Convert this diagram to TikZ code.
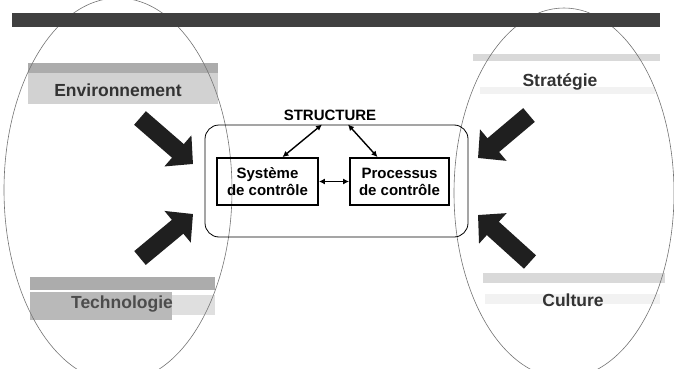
\documentclass[tikz,border=0pt]{standalone}
\usepackage{fontspec}
\setmainfont{Liberation Sans}
\usetikzlibrary{arrows.meta}
\begin{document}
\begin{tikzpicture}[x=1pt,y=-1pt,
  lbl/.style={font=\fontsize{17.5}{20}\selectfont\bfseries, text=black!80, inner sep=0pt},
  boxtxt/.style={draw, line width=1.8pt, align=center, font=\fontsize{15}{17}\selectfont\bfseries, inner sep=0pt},
  smallarr/.style={line width=1.4pt, {Latex[length=6pt,width=6pt]}-{Latex[length=6pt,width=6pt]}},
  bigarr/.style={line width=18pt, -{Triangle[width=40pt,length=20pt]}, black!88},
  ell/.style={draw=black!55, line width=0.6pt}]
\useasboundingbox (0,0) rectangle (674,369);
% bands
\fill[gray!35] (28,63) rectangle (218,104);
\fill[gray!65] (28,63) rectangle (218,73);
\fill[gray!65] (30,277) rectangle (215,290);
\fill[gray!55] (30,292) rectangle (172,320);
\fill[gray!25] (172,295) rectangle (215,315);
\fill[gray!30] (473,54) rectangle (660,61);
\fill[gray!10] (480,87) rectangle (655,94);
\fill[gray!30] (483,273) rectangle (665,283);
\fill[gray!10] (485,294) rectangle (660,304);
% ellipses
\begin{scope}
\clip (0,0) rectangle (674,369);
\draw[ell] (118,190) ellipse [x radius=114, y radius=192];
\draw[ell] (564,193) ellipse [x radius=110, y radius=185];
\end{scope}
% top bar
\fill[black!75] (12,13) rectangle (660,27);
% labels
\node[lbl] (env) at (118,90) {Environnement};
\node[lbl, text=black!70] (tech) at (122,304) {Technologie};
\node[lbl] (strat) at (560,82) {Stratégie};
\node[lbl] (cult) at (573,300) {Culture};
% structure
\node[draw, line width=0.8pt, rounded corners=14pt, minimum width=263pt, minimum height=112pt] (struct) at (336.5,181) {};
\node[font=\fontsize{15}{17}\selectfont\bfseries, inner sep=1pt] (slab) at (330,115) {STRUCTURE};
\node[boxtxt, minimum width=101pt, minimum height=47pt] (sys) at (267.5,181.5) {Système\\de contrôle};
\node[boxtxt, minimum width=99pt, minimum height=47pt] (proc) at (399.5,181.5) {Processus\\de contrôle};
\draw[smallarr] (sys) -- (proc);
\draw[smallarr] ([xshift=15pt]sys.north) -- ([xshift=-8pt,yshift=-3pt]slab.south);
\draw[smallarr] ([xshift=-22pt]proc.north) -- ([xshift=18pt,yshift=-3pt]slab.south);
% big arrows
\coordinate (t1) at (140,118); \coordinate (h1) at (193,164);
\coordinate (t2) at (140,258); \coordinate (h2) at (193,214);
\coordinate (t3) at (529,115); \coordinate (h3) at (478,158);
\coordinate (t4) at (530,262); \coordinate (h4) at (478,215);
\draw[bigarr] (t1) -- (h1);
\draw[bigarr] (t2) -- (h2);
\draw[bigarr] (t3) -- (h3);
\draw[bigarr] (t4) -- (h4);
\end{tikzpicture}
\end{document}
